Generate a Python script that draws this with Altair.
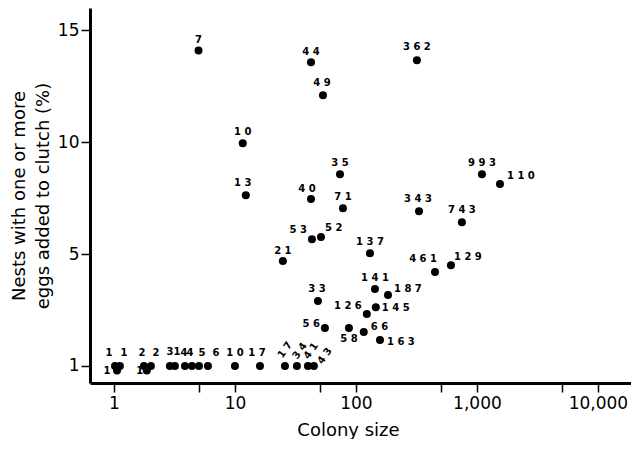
import math
import altair as alt
import pandas as pd

# ---- data ----
# points above the baseline: colony size, % nests with eggs added, sample label
sizes = [5, 42.5, 53.4, 319, 11.6, 12.3, 42.5, 73.8, 78.1, 332, 1100, 1550, 751,
         43.3, 51.4, 24.9, 130.6, 450, 610, 143.6, 184, 146, 123, 48.5, 55.4,
         87.5, 116, 158]
pcts = [14.1, 13.57, 12.1, 13.66, 9.96, 7.63, 7.46, 8.57, 7.05, 6.92, 8.57, 8.13,
        6.43, 5.67, 5.76, 4.69, 5.04, 4.2, 4.5, 3.44, 3.17, 2.63, 2.32, 2.9, 1.7,
        1.7, 1.52, 1.16]
labels = ["7", "44", "49", "362", "10", "13", "40", "35", "71", "343", "993", "110",
          "743", "53", "52", "21", "137", "461", "129", "141", "187", "145", "126",
          "33", "56", "58", "66", "163"]

# points on the baseline
sizes0 = [1.02, 1.12, 1.06, 1.77, 2.02, 1.87, 2.9, 3.19, 3.86, 4.41, 5.04, 5.98,
          10.0, 16.1, 25.9, 32.5, 40.1, 44.9]
pcts0 = [0, 0, -0.2, 0, 0, -0.2, 0, 0, 0, 0, 0, 0, 0, 0, 0, 0, 0, 0]
labels0 = ["1", "1", "1", "2", "2", "1", "3", "1", "4", "4", "5", "6", "10", "17",
           "17", "34", "41", "43"]

x_ticks = [1, 5, 10, 50, 100, 500, 1000, 5000, 10000]
x_labelled = [1, 10, 100, 1000, 10000]
y_ticks = [0, 5, 10, 15]

# ---- label placement styles: screen offset (ox, oy), align, angle ----
label_styles = [
    (0, -11, "center", 0), (0, -10, "center", 0), (-1, -12, "center", 0),
    (0, -13, "center", 0), (0, -11, "center", 0), (-3, -12, "center", 0),
    (-4, -10, "center", 0), (0, -11, "center", 0), (0, -11, "center", 0),
    (-1, -12, "center", 0), (0, -11, "center", 0), (7, -8, "left", 0),
    (0, -12, "center", 0), (-5, -9, "right", 0), (4, -9, "left", 0),
    (0, -10, "center", 0), (0, -11, "center", 0), (2, -13, "right", 0),
    (3, -8, "left", 0), (0, -11, "center", 0), (6, -6, "left", 0),
    (6, 1, "left", 0), (-5, -8, "right", 0), (-1, -12, "center", 0),
    (-5, -4, "right", 0), (0, 11, "center", 0), (7, -5, "left", 0),
    (7, 2, "left", 0),
    # baseline points
    (-6, -13, "center", 0), (4, -13, "center", 0), (-10, 1, "center", 0),
    (-2, -13, "center", 0), (5, -13, "center", 0), (-7, 1, "center", 0),
    (0, -14, "center", 0), (2, -14, "center", 0),
    (-1, -13, "center", 0), (-2, -13, "center", 0), (3, -13, "center", 0),
    (8, -13, "center", 0), (0, -13, "center", 0), (-3, -13, "center", 0),
    (0, -16, "center", 305), (3, -15, "center", 305), (3, -15, "center", 305),
    (11, -10, "center", 305),
]

df = pd.DataFrame({
    "size": sizes + sizes0,
    "pct": pcts + pcts0,
    "n": labels + labels0,
})
df["lab"] = [" ".join(s) for s in df["n"]]

FONT = "DejaVu Sans"
xscale = alt.Scale(type="log", domain=[0.634, 18760], nice=False)
yscale = alt.Scale(domain=[-0.76, 16.0], nice=False, zero=False)

lab_arr = "[" + ",".join(str(v) for v in x_labelled) + "]"
common_axis = dict(
    grid=False, domainColor="black", domainWidth=3, tickColor="black",
    tickWidth=1.5, tickSize=9, labelColor="black", labelFont=FONT,
    labelFontSize=17, titleFont=FONT, titleFontSize=18, titleFontWeight="normal",
    titleColor="black", labelOverlap=False, labelFlush=False,
)
x_enc = alt.X(
    "size:Q", scale=xscale, title="Colony size",
    axis=alt.Axis(values=x_ticks, labelPadding=3, titlePadding=10, titleX=258,
                  labelExpr=f"indexof({lab_arr}, datum.value) >= 0 ? format(datum.value, ',') : ''",
                  **common_axis),
)
y_enc = alt.Y(
    "pct:Q", scale=yscale,
    title=["Nests with one or more", "eggs added to clutch (%)"],
    axis=alt.Axis(values=y_ticks, labelPadding=2, titlePadding=5, titleLineHeight=24,
                  labelExpr="datum.value == 0 ? '1' : datum.label",
                  **common_axis),
)

points = alt.Chart(df).mark_circle(size=64, color="black", opacity=1).encode(
    x=x_enc, y=y_enc
)

layers = [points]
groups = {}
for i, st in enumerate(label_styles):
    groups.setdefault(st, []).append(i)
for st, idx in groups.items():
    ox, oy, align, angle = st
    # Vega applies dx/dy in the rotated frame: convert the screen offset
    th = math.radians(angle)
    dx = ox * math.cos(th) + oy * math.sin(th)
    dy = -ox * math.sin(th) + oy * math.cos(th)
    sub = df.iloc[idx]
    kw = dict(dx=round(dx, 2), dy=round(dy, 2), align=align, baseline="middle",
              font=FONT, fontSize=10, fontWeight="bold", color="black")
    if angle:
        kw["angle"] = angle
    layers.append(
        alt.Chart(sub).mark_text(**kw).encode(x=x_enc, y=y_enc, text="lab:N")
    )

chart = alt.layer(*layers).properties(
    width=541, height=375,
    padding={"left": 2, "top": 0, "right": 0, "bottom": 0},
    background="white",
).configure_view(strokeWidth=0)

chart.save("out.html", embed_options={"renderer": "svg", "actions": False})
